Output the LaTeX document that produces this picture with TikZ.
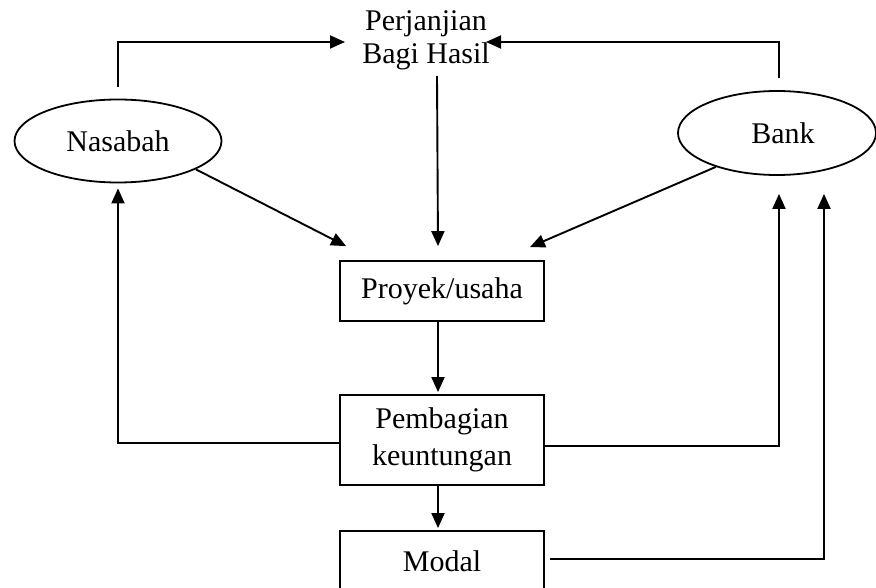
\documentclass[tikz,border=0pt]{standalone}
\usepackage{fontspec}
\setmainfont{Liberation Serif}
\usetikzlibrary{shapes.geometric,arrows.meta}
\begin{document}
\begin{tikzpicture}[x=1pt,y=-1pt,
  every node/.style={font=\fontsize{30}{33}\selectfont},
  actor/.style={ellipse, draw, line width=1.8pt, inner sep=0pt},
  stage/.style={rectangle, draw, line width=1.8pt, minimum width=204pt, inner sep=0pt, align=center},
  flow/.style={line width=1.9pt, -{Triangle[length=15pt,width=13pt]}}]
\useasboundingbox (0,0) rectangle (876,588);
\fill[white] (0,0) rectangle (876,588);

% parties and agreement
\node[actor, minimum width=207pt, minimum height=83pt] (nas) at (118,141) {Nasabah};
\node[actor, minimum width=198pt, minimum height=84pt] (bank) at (777,133) {\hspace*{12pt}Bank};
\node[align=center, inner sep=0pt] (perj) at (426,40) {Perjanjian\\Bagi Hasil};

% central column of boxes
\node[stage, minimum height=60pt] (proy) at (442,291) {Proyek/usaha};
\node[stage, minimum height=90pt, font=\fontsize{30}{37}\selectfont] (pemb) at (442,440) {Pembagian\\keuntungan};
\node[stage, minimum height=60pt] (modal) at (442,561) {Modal};

% agreement
\draw[flow] ([yshift=12pt]nas.north) |- ([xshift=-81pt,yshift=-2pt]perj.center);
\draw[flow] ([xshift=2pt,yshift=12pt]bank.north) |- ([xshift=60pt,yshift=-2pt]perj.center);
\draw[flow] ([xshift=11pt,yshift=-36pt]perj.center) -- ([xshift=-4pt,yshift=14pt]proy.north);

% contributions to the project
\draw[flow] (nas.-20.6) -- ([xshift=7pt,yshift=14pt]proy.north west);
\draw[flow] (bank.-151) -- ([xshift=-15pt,yshift=13pt]proy.north east);

% down the column
\draw[flow] ([xshift=-4pt]proy.south) -- ([xshift=-4pt,yshift=2pt]pemb.north);
\draw[flow] ([xshift=-4pt]pemb.south) -- ([xshift=-4pt,yshift=2pt]modal.north);

% returns to the parties
\draw[flow] ([yshift=-3pt]pemb.west) -| ([yshift=-5pt]nas.south);
\draw[flow] ([yshift=-6pt]pemb.east) -| ([xshift=2pt,yshift=-18pt]bank.south);
\draw[flow] ([xshift=5pt,yshift=2pt]modal.east) -| ([xshift=47pt,yshift=-18pt]bank.south);
\end{tikzpicture}
\end{document}
